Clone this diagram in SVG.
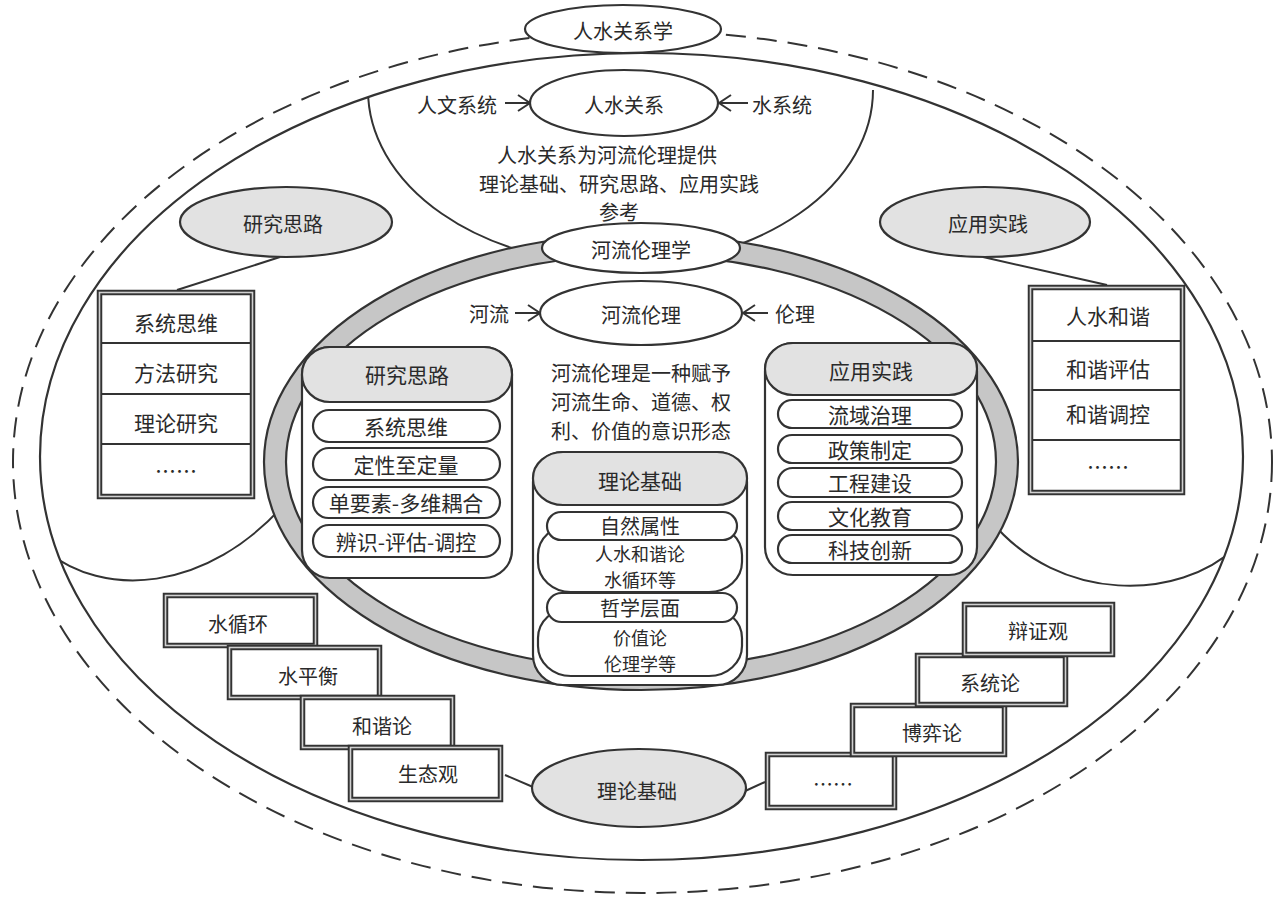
<svg xmlns="http://www.w3.org/2000/svg" width="1281" height="897" viewBox="0 0 1281 897">
<defs>
<style>
text { font-family: "Noto Sans CJK SC", "Noto Sans", sans-serif; font-size: 21px; fill: #2a2a2a; text-anchor: middle; dominant-baseline: central; }
.t20 { font-size: 20px; }
.t18 { font-size: 18px; }
.ln { fill: none; stroke: #333; stroke-width: 2; }
.wh { fill: #fff; stroke: #333; stroke-width: 2.2; }
.gr { fill: #e2e2e2; stroke: #333; stroke-width: 2.2; }
.ring { fill: #c6c6c6; stroke: #333; stroke-width: 2.2; }
.dbo { fill: #fff; stroke: #333; stroke-width: 5.5; }
.dbi { fill: none; stroke: #d0d0d0; stroke-width: 1.6; }
.sep { stroke: #333; stroke-width: 2; }
.arrow { stroke: #333; stroke-width: 2; marker-end: url(#arr); }
</style>
<clipPath id="inSolid"><ellipse cx="641.5" cy="456.5" rx="601.5" ry="403.5"/></clipPath>
<marker id="arr" markerUnits="userSpaceOnUse" markerWidth="16" markerHeight="20" refX="13" refY="9" orient="auto"><path d="M1,1 L13,9 L1,17" fill="none" stroke="#333" stroke-width="2"/></marker>
</defs>
<rect x="0" y="0" width="1281" height="897" fill="#fff"/>

<g id="frame">
<ellipse class="ln" cx="642.5" cy="462" rx="629.5" ry="431" stroke-dasharray="20 11"/>
<ellipse class="wh" cx="641.5" cy="456.5" rx="601.5" ry="403.5"/>
<g clip-path="url(#inSolid)" class="ln">
<path d="M 368 90 A 252.5 175 0 0 0 873 90"/>
<path d="M 48 552 C 100 595, 205 598, 290 498"/>
<path d="M 990 520 C 1060 605, 1180 600, 1235 548"/>
</g>
<ellipse class="ring" cx="641" cy="462" rx="377" ry="228"/>
<ellipse class="wh" cx="641" cy="462" rx="355" ry="207"/>
</g>

<g id="connectors">
<line class="ln" x1="280" y1="257" x2="177" y2="290"/>
<line class="ln" x1="983" y1="257" x2="1107" y2="285"/>
<line class="ln" x1="505" y1="775" x2="533" y2="787"/>
<line class="ln" x1="743" y1="792" x2="765" y2="782"/>
<line class="arrow" x1="505" y1="103" x2="530" y2="103"/>
<line class="arrow" x1="748" y1="103" x2="719" y2="103"/>
<line class="arrow" x1="515" y1="313" x2="540" y2="313"/>
<line class="arrow" x1="768" y1="313" x2="743" y2="313"/>
</g>

<g id="n-renshui-xue">
<ellipse class="wh" cx="623" cy="29" rx="98" ry="24"/>
<text class="t20" x="623" y="30">人水关系学</text>
</g>
<g id="n-renshui">
<ellipse class="wh" cx="624" cy="103" rx="94" ry="33"/>
<text class="t20" x="624" y="104">人水关系</text>
</g>
<g id="n-renwen"><text class="t20" x="457" y="104">人文系统</text></g>
<g id="n-shuixitong"><text class="t20" x="782" y="104">水系统</text></g>
<g id="n-top-desc">
<text class="t20" x="607" y="154">人水关系为河流伦理提供</text>
<text class="t20" x="619" y="183">理论基础、研究思路、应用实践</text>
<text class="t20" x="619" y="211">参考</text>
</g>

<g id="n-heliu-xue">
<ellipse class="wh" cx="641" cy="248" rx="99" ry="25"/>
<text class="t20" x="641" y="249">河流伦理学</text>
</g>
<g id="n-heliu-lunli">
<ellipse class="wh" cx="641" cy="313" rx="101" ry="32"/>
<text class="t20" x="641" y="314">河流伦理</text>
</g>
<g id="n-heliu"><text class="t20" x="489" y="313">河流</text></g>
<g id="n-lunli"><text class="t20" x="795" y="313">伦理</text></g>
<g id="n-center-desc">
<text class="t20" x="641" y="372">河流伦理是一种赋予</text>
<text class="t20" x="641" y="401">河流生命、道德、权</text>
<text class="t20" x="641" y="430">利、价值的意识形态</text>
</g>

<g id="n-yanjiu-oval">
<ellipse class="gr" cx="286" cy="222" rx="106" ry="35"/>
<text class="t20" x="283" y="223">研究思路</text>
</g>
<g id="n-yingyong-oval">
<ellipse class="gr" cx="985" cy="222" rx="105" ry="35"/>
<text class="t20" x="988" y="223">应用实践</text>
</g>

<g id="n-left-box">
<rect class="dbo" x="99.5" y="292.5" width="153" height="204"/>
<rect class="dbi" x="99.5" y="292.5" width="153" height="204"/>
<line class="sep" x1="102" y1="343" x2="250" y2="343"/>
<line class="sep" x1="102" y1="394" x2="250" y2="394"/>
<line class="sep" x1="102" y1="444" x2="250" y2="444"/>
<text x="176" y="322">系统思维</text>
<text x="176" y="372">方法研究</text>
<text x="176" y="422">理论研究</text>
<text x="176" y="470">……</text>
</g>

<g id="n-right-box">
<rect class="dbo" x="1030.5" y="287.5" width="152" height="205"/>
<rect class="dbi" x="1030.5" y="287.5" width="152" height="205"/>
<line class="sep" x1="1033" y1="341" x2="1180" y2="341"/>
<line class="sep" x1="1033" y1="390" x2="1180" y2="390"/>
<line class="sep" x1="1033" y1="440" x2="1180" y2="440"/>
<text x="1108" y="315">人水和谐</text>
<text x="1108" y="368">和谐评估</text>
<text x="1108" y="413">和谐调控</text>
<text x="1108" y="466">……</text>
</g>

<g id="n-card-yanjiu">
<rect class="wh" x="302" y="347" width="210" height="231" rx="28" ry="28"/>
<rect class="gr" x="302" y="347" width="210" height="55" rx="28" ry="27"/>
<text x="407" y="374">研究思路</text>
<rect class="wh" x="313" y="410" width="187" height="32" rx="16"/>
<rect class="wh" x="313" y="448" width="187" height="32" rx="16"/>
<rect class="wh" x="313" y="487" width="187" height="31" rx="15.5"/>
<rect class="wh" x="313" y="525" width="187" height="32" rx="16"/>
<text x="406" y="426">系统思维</text>
<text x="406" y="464">定性至定量</text>
<text x="406" y="502">单要素-多维耦合</text>
<text x="406" y="541">辨识-评估-调控</text>
</g>

<g id="n-card-lilun">
<rect class="wh" x="533" y="452" width="214" height="233" rx="30" ry="30"/>
<rect class="gr" x="533" y="452" width="214" height="53" rx="30" ry="26"/>
<text x="640" y="480">理论基础</text>
<rect class="wh" x="538" y="525" width="204" height="67" rx="33" ry="30"/>
<rect class="wh" x="538" y="608" width="204" height="68" rx="33" ry="30"/>
<rect class="wh" x="547" y="512" width="190" height="28" rx="14"/>
<rect class="wh" x="547" y="593" width="190" height="29" rx="14.5"/>
<text class="t20" x="640" y="525">自然属性</text>
<text class="t18" x="640" y="553">人水和谐论</text>
<text class="t18" x="640" y="579">水循环等</text>
<text class="t20" x="640" y="607">哲学层面</text>
<text class="t18" x="640" y="637">价值论</text>
<text class="t18" x="640" y="663">伦理学等</text>
</g>

<g id="n-card-yingyong">
<rect class="wh" x="765" y="343" width="212" height="232" rx="28" ry="28"/>
<rect class="gr" x="765" y="343" width="212" height="52" rx="28" ry="26"/>
<text x="871" y="370">应用实践</text>
<rect class="wh" x="778" y="400" width="184" height="28" rx="14"/>
<rect class="wh" x="778" y="435" width="184" height="28" rx="14"/>
<rect class="wh" x="778" y="468" width="184" height="29" rx="14.5"/>
<rect class="wh" x="778" y="502" width="184" height="28" rx="14"/>
<rect class="wh" x="778" y="535" width="184" height="28" rx="14"/>
<text x="870" y="414">流域治理</text>
<text x="870" y="449">政策制定</text>
<text x="870" y="482">工程建设</text>
<text x="870" y="516">文化教育</text>
<text x="870" y="549">科技创新</text>
</g>

<g id="n-stairs-left">
<rect class="dbo" x="165.5" y="595.5" width="150" height="50"/>
<rect class="dbi" x="165.5" y="595.5" width="150" height="50"/>
<text class="t20" x="238" y="623">水循环</text>
<rect class="dbo" x="229.5" y="647.5" width="150" height="50"/>
<rect class="dbi" x="229.5" y="647.5" width="150" height="50"/>
<text class="t20" x="308" y="675">水平衡</text>
<rect class="dbo" x="302.5" y="697.5" width="150" height="50"/>
<rect class="dbi" x="302.5" y="697.5" width="150" height="50"/>
<text class="t20" x="382" y="725">和谐论</text>
<rect class="dbo" x="350.5" y="747.5" width="150" height="52"/>
<rect class="dbi" x="350.5" y="747.5" width="150" height="52"/>
<text class="t20" x="428" y="773">生态观</text>
</g>

<g id="n-stairs-right">
<rect class="dbo" x="767.5" y="754.5" width="127" height="53"/>
<rect class="dbi" x="767.5" y="754.5" width="127" height="53"/>
<text class="t20" x="833" y="783">……</text>
<rect class="dbo" x="852.5" y="705.5" width="152" height="49"/>
<rect class="dbi" x="852.5" y="705.5" width="152" height="49"/>
<text class="t20" x="932" y="732">博弈论</text>
<rect class="dbo" x="917.5" y="655.5" width="148" height="49"/>
<rect class="dbi" x="917.5" y="655.5" width="148" height="49"/>
<text class="t20" x="990" y="682">系统论</text>
<rect class="dbo" x="964.5" y="604.5" width="148" height="50"/>
<rect class="dbi" x="964.5" y="604.5" width="148" height="50"/>
<text class="t20" x="1038" y="630">辩证观</text>
</g>

<g id="n-lilun-oval">
<ellipse class="gr" cx="639" cy="788" rx="107" ry="39"/>
<text class="t20" x="637" y="790">理论基础</text>
</g>
</svg>
